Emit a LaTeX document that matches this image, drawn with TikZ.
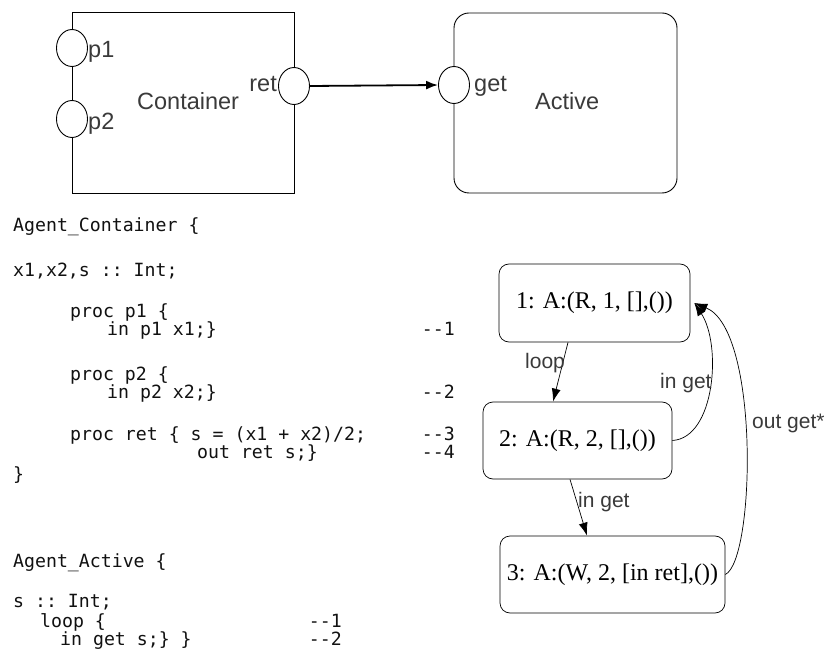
\documentclass[tikz,border=0pt]{standalone}
\usepackage{fontspec}
\setmainfont{Liberation Serif}
\setsansfont{Liberation Sans}
\setmonofont{DejaVu Sans Mono}
\usetikzlibrary{arrows.meta,shapes.geometric,calc}
\definecolor{lbl}{HTML}{3A3A3A}
\definecolor{codec}{HTML}{111111}
\begin{document}
\begin{tikzpicture}[x=1pt,y=-1pt,
  port/.style={draw,ellipse,fill=white,minimum width=31pt,minimum height=37pt,inner sep=0pt,line width=0.9pt},
  toplbl/.style={font=\sffamily\fontsize{23.5}{23.5}\selectfont,text=lbl,inner sep=0pt},
  code/.style={font=\ttfamily\fontsize{18.2}{18}\selectfont,text=codec,inner sep=0pt,anchor=base west},
  coderight/.style={font=\ttfamily\fontsize{18.2}{18}\selectfont,text=codec,inner sep=0pt,anchor=base east},
  statebox/.style={draw,rounded corners=10pt,line width=0.7pt,font=\fontsize{24}{24}\selectfont,inner sep=0pt},
  elbl/.style={font=\sffamily\fontsize{21}{21}\selectfont,text=lbl,inner sep=0pt,anchor=base west},
  earrow/.style={draw,line width=0.7pt,-{Latex[length=13pt,width=9pt]}}
]
\useasboundingbox (0,0) rectangle (827,652);

% --- top component diagram
\node[draw,line width=0.9pt,minimum width=222pt,minimum height=181pt,inner sep=0pt] (cont) at (183,102.5) {};
\node[draw,line width=0.9pt,rounded corners=15pt,minimum width=223pt,minimum height=180pt,inner sep=0pt] (act) at (565.5,103) {};
\node[port] (p1) at (72,48) {};
\node[port] (p2) at (72,119) {};
\node[port] (ret) at (294,86) {};
\node[port] (get) at (454,85) {};
\node[toplbl,anchor=base west] (lp1) at (88,58) {p1};
\node[toplbl,anchor=base west] (lp2) at (88,130) {p2};
\node[toplbl,anchor=base east] (lret) at (277,92) {ret};
\node[toplbl,anchor=base west] (lcont) at (137,110) {Container};
\node[toplbl,anchor=base west] (lget) at (474,92) {get};
\node[toplbl,anchor=base west] (lact) at (535,110) {Active};
\draw[line width=1.8pt,-{Latex[length=12pt,width=9pt]}] (ret.east) -- (get.west);

% --- code
\node[code] (c1) at (13,232) {Agent\_Container \{};
\node[code] (c2) at (13,277) {x1,x2,s :: Int;};
\node[code] (c3) at (70,317) {proc p1 \{};
\node[code] (c4) at (107,335) {in p1 x1;\}};
\node[coderight] (n1) at (455,335) {--1};
\node[code] (c5) at (70,380) {proc p2 \{};
\node[code] (c6) at (107,398) {in p2 x2;\}};
\node[coderight] (n2) at (455,398) {--2};
\node[code] (c7) at (70,440) {proc ret \{ s = (x1 + x2)/2;};
\node[coderight] (n3) at (455,440) {--3};
\node[code] (c8) at (197,458) {out ret s;\}};
\node[coderight] (n4) at (455,458) {--4};
\node[code] (c9) at (13,480) {\}};
\node[code] (d1) at (13,567) {Agent\_Active \{};
\node[code] (d2) at (13,607) {s :: Int;};
\node[code] (d3) at (40,627) {loop \{};
\node[coderight] (m1) at (342,627) {--1};
\node[code] (d4) at (60,645) {in get s;\} \}};
\node[coderight] (m2) at (342,645) {--2};

% --- state diagram
\node[statebox,minimum width=191pt,minimum height=78pt] (b1) at (594.5,303) {1: A:(R, 1, [],())};
\node[statebox,minimum width=189pt,minimum height=77pt] (b2) at (577.5,440.5) {2: A:(R, 2, [],())};
\node[statebox,minimum width=225pt,minimum height=77pt] (b3) at (612.5,574.5) {3: A:(W, 2, [in ret],())};
\coordinate (t1) at ($(b1.east)+(4,0)$);

\draw[earrow] (568,0 |- b1.south) -- (553,0 |- b2.north);
\draw[earrow] (570,0 |- b2.south) -- (587,0 |- b3.north);
\draw[earrow] (b2.east) .. controls (715,438) and (722,345) .. (t1);
\draw[earrow] (b3.east) .. controls (755,560) and (760,330) .. (t1);

\node[elbl] (lloop) at (525,368) {loop};
\node[elbl] (lin1) at (660,388) {in get};
\node[elbl] (lin2) at (578,507) {in get};
\node[elbl] (lout) at (752,428) {out get*};
\end{tikzpicture}
\end{document}
